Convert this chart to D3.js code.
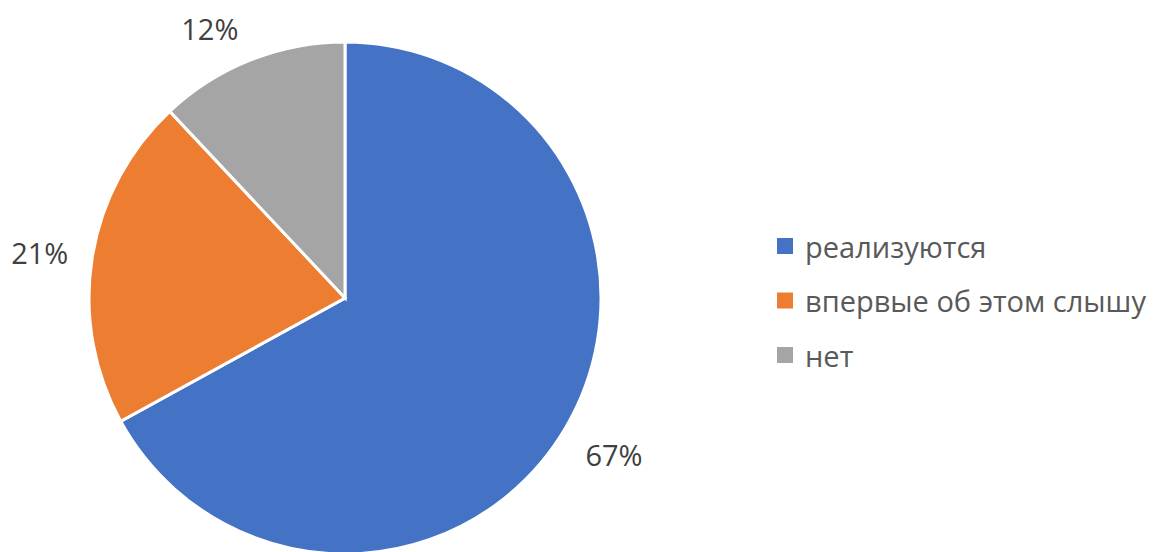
<!DOCTYPE html>
<html><head><meta charset="utf-8">
<script src="https://cdn.jsdelivr.net/npm/d3@7"></script>
<style>html,body{margin:0;padding:0;background:#fff;}</style>
</head><body>
<svg id="chart" width="1158" height="552"></svg>
<script>
const categories = ["реализуются", "впервые об этом слышу", "нет"];
const values = [67, 21, 12];
const labels = ["67%", "21%", "12%"];
const colors = ["#4472C4", "#ED7D31", "#A5A5A5"];

// layout (not data): small label nudges to mimic Excel's outside-end placement
const labelNudge = [[9, 3], [-7, 2], [-24, 11]];

const svg = d3.select("#chart");
const cx = 345, cy = 298, r = 256;
const font = "'Open Sans', sans-serif";

const pie = d3.pie().sort(null).value(d => d)(values);
const arc = d3.arc().innerRadius(0).outerRadius(r);
const g = svg.append("g").attr("transform", `translate(${cx},${cy})`);
g.selectAll("path").data(pie).join("path")
  .attr("d", arc)
  .attr("fill", (d, i) => colors[i])
  .attr("stroke", "#fff").attr("stroke-width", 3);

const labelArc = d3.arc().innerRadius(r + 46).outerRadius(r + 46);
g.selectAll("text.lbl").data(pie).join("text")
  .attr("class", "lbl")
  .attr("transform", (d, i) => {
    const c = labelArc.centroid(d);
    return `translate(${c[0] + labelNudge[i][0]},${c[1] + labelNudge[i][1]})`;
  })
  .attr("text-anchor", "middle").attr("dominant-baseline", "central")
  .attr("font-family", font).attr("font-size", 29).attr("fill", "#404040")
  .text((d, i) => labels[i]);

const leg = svg.append("g").attr("transform", "translate(777,246)");
const items = leg.selectAll("g").data(categories).join("g")
  .attr("transform", (d, i) => `translate(0,${i * 54.5})`);
items.append("rect").attr("x", 0).attr("y", -8).attr("width", 16).attr("height", 16)
  .attr("fill", (d, i) => colors[i]);
items.append("text").attr("x", 28).attr("y", 0).attr("dominant-baseline", "central")
  .attr("font-family", font).attr("font-size", 29).attr("fill", "#595959")
  .text(d => d);
</script>
</body></html>
